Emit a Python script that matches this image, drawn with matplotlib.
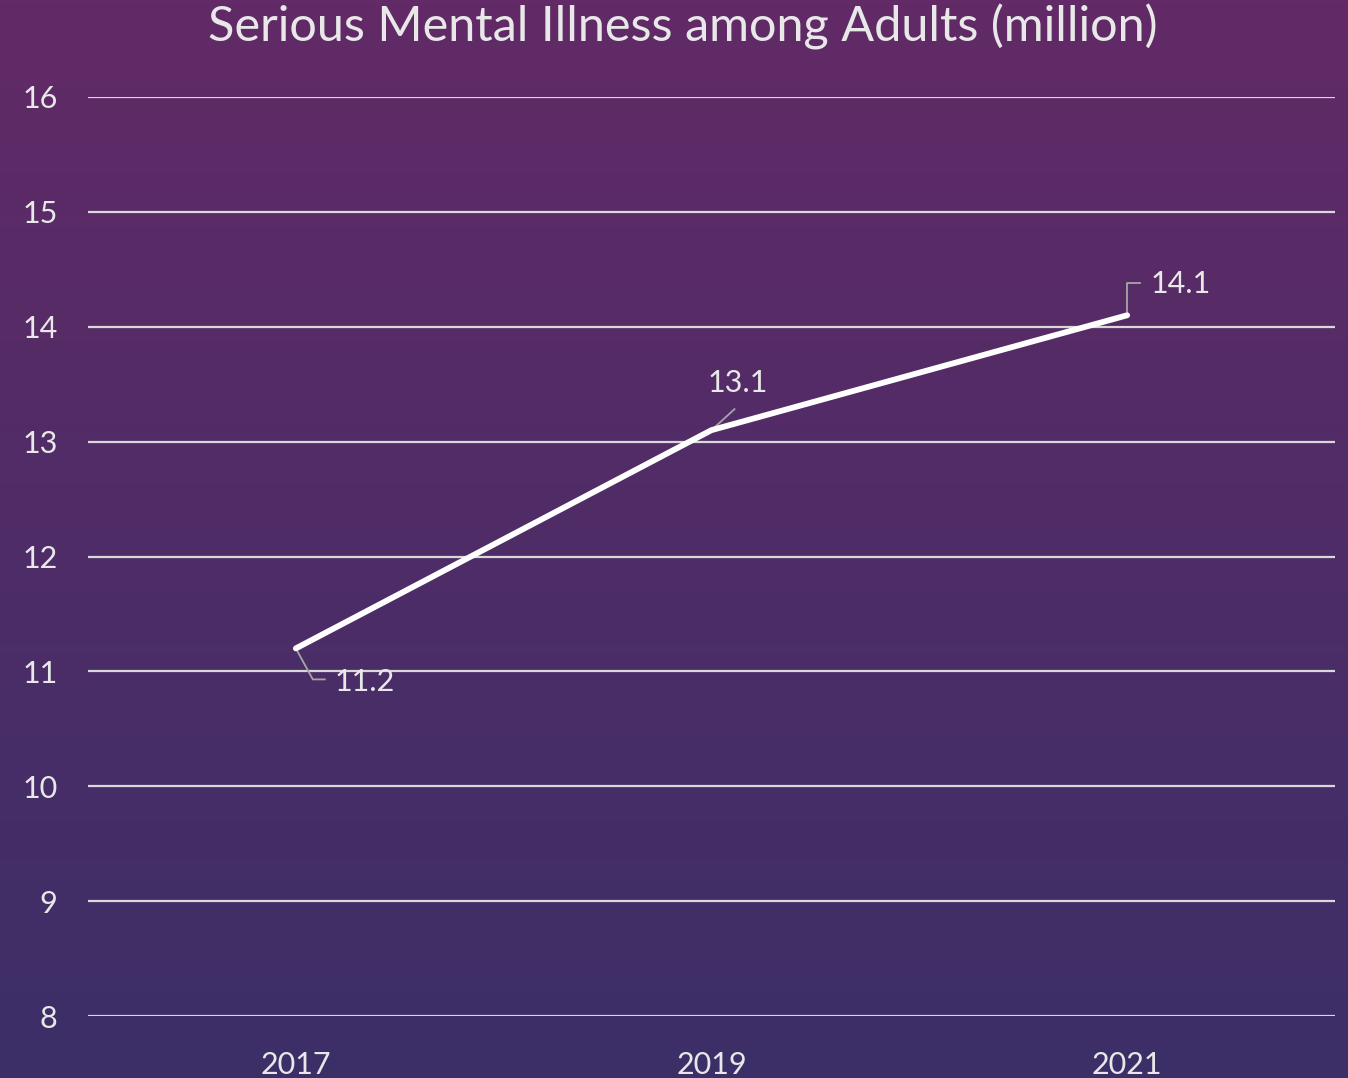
import numpy as np
import matplotlib
matplotlib.use('Agg')
from matplotlib import pyplot as plt
from matplotlib.colors import LinearSegmentedColormap

years = ['2017', '2019', '2021']
adults_million = [11.2, 13.1, 14.1]
y_ticks = [8, 9, 10, 11, 12, 13, 14, 15, 16]

plt.rcParams['font.family'] = ['Lato', 'DejaVu Sans']

fig = plt.figure(figsize=(13.48, 10.78), dpi=100)

# purple gradient behind everything
bg = fig.add_axes([0, 0, 1, 1], zorder=-10)
grad = np.linspace(0, 1, 256).reshape(-1, 1)
cmap = LinearSegmentedColormap.from_list('bg', ['#622a66', '#3c2f68'])
bg.imshow(grad, aspect='auto', cmap=cmap, extent=[0, 1, 0, 1], origin='upper')
bg.axis('off')

ax = fig.add_axes([88 / 1348, 1 - 1016 / 1078, (1335 - 88) / 1348, (1016 - 97) / 1078])
ax.patch.set_alpha(0)

x = np.arange(len(years))
ax.plot(x, adults_million, color='white', lw=4.2, solid_capstyle='round', zorder=3)

ax.set_xlim(-0.5, len(years) - 0.5)
ax.set_ylim(y_ticks[0], y_ticks[-1])
ax.set_yticks(y_ticks)
ax.set_xticks(x)
ax.set_xticklabels(years)
ax.grid(axis='y', color='#d9d9d9', lw=1.6)
ax.set_axisbelow(True)
for s in ax.spines.values():
    s.set_visible(False)
ax.tick_params(length=0, colors='#e8e8e8', labelsize=22)
ax.tick_params(axis='y', pad=22)
ax.tick_params(axis='x', pad=25)

fig.text(683 / 1348, 1 - 27 / 1078, 'Serious Mental Illness among Adults (million)',
         ha='center', va='center', fontsize=35, color='#e8e8e8')

# data labels with leader lines, offsets in pixels
leaders = [
    ([0, 17, 29], [0, -31, -31], (39, -34), 'left'),
    ([0, 23], [0, 21], (26, 47), 'center'),
    ([0, 0, 13], [0, 32, 32], (23, 31), 'left'),
]
for i, (lx, ly, (tx, ty), ha) in enumerate(leaders):
    pts = [ax.transData.transform((x[i], adults_million[i])) + np.array([dx, dy])
           for dx, dy in zip(lx, ly)]
    pts = np.array(pts)
    ax.plot(pts[:, 0], pts[:, 1], transform=None, color='#a6a6a6', lw=1.3, zorder=2)
    ax.annotate(f'{adults_million[i]:.1f}', (x[i], adults_million[i]),
                xytext=(tx, ty), textcoords='offset pixels', ha=ha, va='center',
                fontsize=22, color='#e8e8e8')

fig.savefig('out.png', dpi=100)
